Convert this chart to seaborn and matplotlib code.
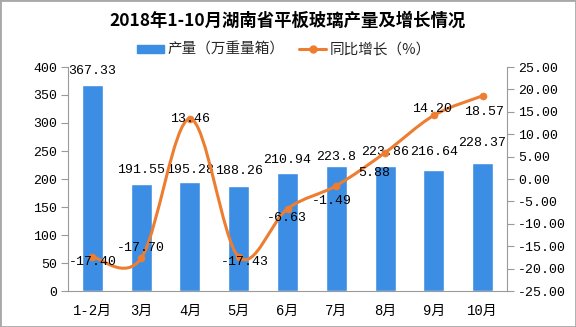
import numpy as np
import pandas as pd
import matplotlib
matplotlib.use("Agg")
import matplotlib.pyplot as plt
import seaborn as sns
from matplotlib.path import Path
from matplotlib.patches import PathPatch, Patch, Rectangle
from matplotlib.lines import Line2D

# ---- data -------------------------------------------------------------
months = ["1-2月", "3月", "4月", "5月", "6月", "7月", "8月", "9月", "10月"]
output = [367.33, 191.55, 195.28, 188.26, 210.94, 223.8, 223.86, 216.64, 228.37]
growth = [-17.40, -17.70, 13.46, -17.43, -6.63, -1.49, 5.88, 14.20, 18.57]
left_ticks = [0, 50, 100, 150, 200, 250, 300, 350, 400]
right_ticks = [-25, -20, -15, -10, -5, 0, 5, 10, 15, 20, 25]

title = "2018年1-10月湖南省平板玻璃产量及增长情况"
bar_name = "产量（万重量箱）"
line_name = "同比增长（%）"

# ---- style ------------------------------------------------------------
BLUE = "#3b8ee3"
ORANGE = "#ed7d31"
AXIS = "#9a9a9a"
NUM_FONT = ["Liberation Mono", "Noto Sans CJK SC"]
CJK_FONT = ["Noto Sans CJK SC", "DejaVu Sans"]

sns.set_theme(style="white")
plt.rcParams["font.family"] = NUM_FONT
plt.rcParams["axes.unicode_minus"] = False

fig = plt.figure(figsize=(5.76, 3.27), dpi=100)
fig.patch.set_facecolor("white")
W, H = 576, 327
ax = fig.add_axes([68 / W, 1 - 291 / H, (507 - 68) / W, 224 / H])

df = pd.DataFrame({"month": months, "output": output})
sns.barplot(data=df, x="month", y="output", color=BLUE, width=0.43,
            saturation=1, ax=ax, zorder=2)
ax.set_xlim(-0.5, len(months) - 0.5)
ax.set_ylim(0, 400)
ax.set_yticks(left_ticks)
ax.set_xlabel("")
ax.set_ylabel("")

# category boundary tick marks on the x axis
ax.set_xticks(np.arange(len(months)))
ax.set_xticklabels(months, family=NUM_FONT, fontsize=10)
ax.set_xticks(np.arange(-0.5, len(months)), minor=True)
ax.tick_params(axis="x", which="major", length=0, pad=9, colors="black")
ax.tick_params(axis="x", which="minor", length=5, width=0.8, color=AXIS, direction="out")
ax.tick_params(axis="y", length=5, width=0.8, color=AXIS, direction="out",
               labelsize=9.5, pad=3, labelcolor="black")
for lab in ax.get_yticklabels():
    lab.set_family(NUM_FONT)

for s in ["top", "right"]:
    ax.spines[s].set_visible(False)
for s in ["left", "bottom"]:
    ax.spines[s].set_color(AXIS)
    ax.spines[s].set_linewidth(0.8)

# value labels above the bars (offsets in pixels)
bar_dy = [9, 9, 7, 10, 8, 4, 9, 13, 15]
for i, v in enumerate(output):
    ax.annotate(f"{v:g}", (i, v), xytext=(0, bar_dy[i] - 1), textcoords="offset pixels",
                ha="center", va="bottom", fontsize=9.5, family=NUM_FONT,
                color="black", zorder=5, annotation_clip=False)

# ---- growth rate on the secondary axis --------------------------------
ax2 = ax.twinx()
ax2.set_ylim(-25, 25)
ax2.set_yticks(right_ticks)
ax2.set_yticklabels([f"{t:.2f}" for t in right_ticks], family=NUM_FONT)
ax2.tick_params(axis="y", length=5, width=0.8, color=AXIS, direction="out",
                labelsize=9.5, pad=3, labelcolor="black")
for s in ["top", "left", "bottom"]:
    ax2.spines[s].set_visible(False)
ax2.spines["right"].set_color(AXIS)
ax2.spines["right"].set_linewidth(0.8)
ax2.grid(False)
ax.grid(False)

# smoothed curve through the points (Catmull-Rom as cubic Bezier segments)
xs = np.arange(len(growth), dtype=float)
ys = np.asarray(growth, dtype=float)
pts = np.column_stack([xs, ys])
verts = [tuple(pts[0])]
codes = [Path.MOVETO]
n = len(pts)
for i in range(n - 1):
    p0 = pts[i - 1] if i > 0 else pts[i]
    p1 = pts[i]
    p2 = pts[i + 1]
    p3 = pts[i + 2] if i + 2 < n else pts[i + 1]
    c1 = p1 + (p2 - p0) / 6.0
    c2 = p2 - (p3 - p1) / 6.0
    verts += [tuple(c1), tuple(c2), tuple(p2)]
    codes += [Path.CURVE4, Path.CURVE4, Path.CURVE4]
curve = PathPatch(Path(verts, codes), facecolor="none", edgecolor=ORANGE,
                  lw=2.2, zorder=3, capstyle="round", joinstyle="round")
ax2.add_patch(curve)
sns.scatterplot(x=xs, y=ys, ax=ax2, color=ORANGE, edgecolor=ORANGE, s=26,
                zorder=4, legend=False)

line_off = [(0, -5), (0, 10), (0, 0), (6, -5), (-1, -9), (-4, -15), (-11, -20), (-2, 6), (1, -16)]
for i, v in enumerate(growth):
    dx, dy = line_off[i]
    ax2.annotate(f"{v:.2f}", (i, v), xytext=(dx, dy), textcoords="offset pixels",
                 ha="center", va="center", fontsize=9.5, family=NUM_FONT,
                 color="black", zorder=6, annotation_clip=False)

# ---- title, legend, frame ---------------------------------------------
fig.text(288 / W, 1 - 21 / H, title, ha="center", va="center", fontsize=12.5,
         fontweight="bold", family=CJK_FONT, color="black")

handles = [Patch(facecolor=BLUE, edgecolor=BLUE),
           Line2D([0], [0], color=ORANGE, lw=2.2, marker="o", markersize=5)]
leg = fig.legend(handles, [bar_name, line_name], loc="center",
                 bbox_to_anchor=(284 / W, 1 - 50 / H), ncol=2, frameon=False,
                 prop={"family": CJK_FONT, "size": 10.5}, handlelength=1.85,
                 handleheight=0.45, handletextpad=0.25, columnspacing=1.0,
                 borderaxespad=0)

fig.add_artist(Rectangle((0, 0), 1, 1, transform=fig.transFigure, fill=False,
                         edgecolor="#a8a8a8", lw=2))

fig.savefig("out.png", dpi=100)
